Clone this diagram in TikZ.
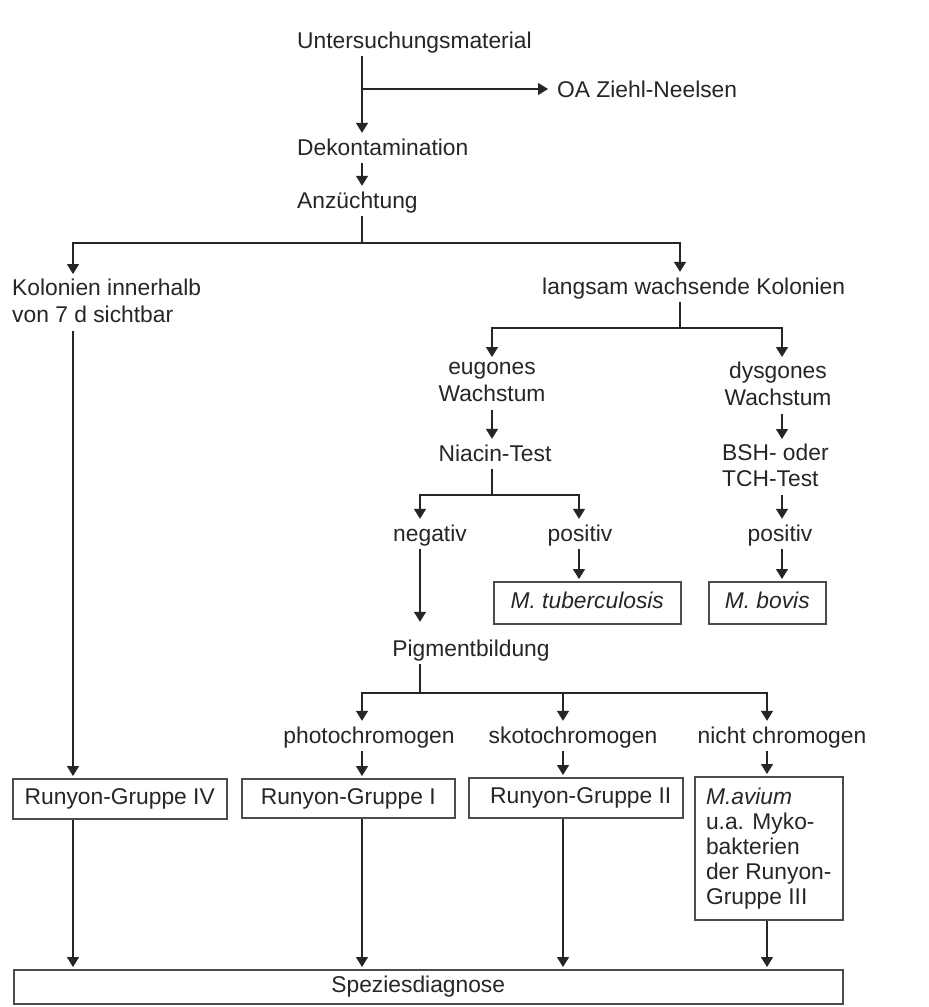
\documentclass[tikz,border=0pt]{standalone}
\usepackage{fontspec}
\setmainfont{Liberation Sans}
\usetikzlibrary{arrows.meta}
\newcommand\mystrut{\vrule height 17pt depth 5pt width 0pt}
\begin{document}
\begin{tikzpicture}[x=1pt,y=-1pt,
  every node/.style={font=\fontsize{22.8pt}{27pt}\selectfont, text=black!85},
  txt/.style={inner xsep=0pt, inner ysep=3pt, execute at begin node=\mystrut},
  box/.style={draw=black!70, line width=1.5pt, inner sep=0pt, anchor=north west, execute at begin node=\mystrut},
  ln/.style={draw=black!85, line width=1.5pt},
  ar/.style={ln, -{Triangle[width=12pt,length=10pt]}, shorten >=2pt},
]
\fill[white] (0,0) rectangle (929,1007);
\useasboundingbox (0,0) rectangle (929,1007);

% column coordinates
\coordinate (xA) at (73,0);
\coordinate (xB) at (362,0);
\coordinate (xC) at (680,0);
\coordinate (xD) at (492,0);
\coordinate (xE) at (782,0);
\coordinate (xF) at (420,0);
\coordinate (xG) at (579,0);
\coordinate (xH) at (563,0);
\coordinate (xI) at (767,0);

% text nodes
\node[txt, anchor=base west] (unt) at (297,48) {Untersuchungsmaterial};
\node[txt, anchor=base west] (oa) at (557,97) {OA Ziehl-Neelsen};
\node[txt, anchor=base west] (dek) at (297,155) {Dekontamination};
\node[txt, anchor=base west] (anz) at (297,208) {Anzüchtung};
\node[txt, anchor=north west, align=left] (kol) at (12,276) {Kolonien innerhalb\\\mystrut von 7 d sichtbar};
\node[txt, anchor=base west] (lang) at (542,294) {langsam wachsende Kolonien};
\node[txt, anchor=north, align=center] (eug) at (492,359) {eugones\\\mystrut Wachstum};
\node[txt, anchor=north, align=center] (dys) at (778,359) {dysgones\\\mystrut Wachstum};
\node[txt, anchor=base] (nia) at (495,461) {Niacin-Test};
\node[txt, anchor=north west, align=left, font=\fontsize{22.8pt}{26pt}\selectfont] (bsh) at (722,441) {BSH- oder\\\mystrut TCH-Test};
\node[txt, anchor=base] (neg) at (430,541) {negativ};
\node[txt, anchor=base] (pos1) at (580,541) {positiv};
\node[txt, anchor=base] (pos2) at (780,541) {positiv};
\node[txt, anchor=base] (pig) at (471,656) {Pigmentbildung};
\node[txt, anchor=base] (photo) at (369,743) {photochromogen};
\node[txt, anchor=base] (skoto) at (573,743) {skotochromogen};
\node[txt, anchor=base] (nicht) at (782,743) {nicht chromogen};

% boxes
\node[box, minimum width=187pt, minimum height=42pt] (tub) at (493,581) {\textit{M. tuberculosis}};
\node[box, minimum width=117pt, minimum height=42pt] (bov) at (708,581) {\textit{M. bovis}};
\node[box, minimum width=214pt, minimum height=40pt] (r4) at (12,778) {Runyon-Gruppe IV};
\node[box, minimum width=213pt, minimum height=39pt] (r1) at (241,778) {Runyon-Gruppe I};
\node[box, minimum width=214pt, minimum height=40pt] (r2) at (468,777) {\hspace*{10pt}Runyon-Gruppe II};
\node[box, minimum width=148pt, minimum height=143pt, align=left, font=\fontsize{22.8pt}{25pt}\selectfont] (avium) at (694,776)
  {\textit{M.avium}\\\mystrut u.a. Myko-\\\mystrut bakterien\\\mystrut der Runyon-\\\mystrut Gruppe III};
\node[box, minimum width=829pt, minimum height=34pt] (spez) at (13,969) {Speziesdiagnose\hspace*{20pt}};

% connectors
\coordinate (c1) at (362,89);
\coordinate (c2) at (362,243);
\coordinate (c3) at (680,328);
\coordinate (c4) at (492,495);
\coordinate (c5) at (420,693);

\draw[ar] (unt.south -| xB) -- (dek.north -| xB);
\draw[ar, shorten >=9pt] (c1) -- (c1 -| oa.west);
\draw[ar] (dek.south -| xB) -- (anz.north -| xB);
\draw[ln] (anz.south -| xB) -- (c2);
\draw[ar] (c2) -| (kol.north -| xA);
\draw[ar] (c2) -| (lang.north -| xC);
\draw[ln] (lang.south -| xC) -- (c3);
\draw[ar] (c3) -| (eug.north -| xD);
\draw[ar] (c3) -| (dys.north -| xE);
\draw[ar] (eug.south -| xD) -- (nia.north -| xD);
\draw[ar] (dys.south -| xE) -- (bsh.north -| xE);
\draw[ln] (nia.south -| xD) -- (c4);
\draw[ar] (c4) -| (neg.north -| xF);
\draw[ar] (c4) -| (pos1.north -| xG);
\draw[ar] (bsh.south -| xE) -- (pos2.north -| xE);
\draw[ar] (pos1.south -| xG) -- (tub.north -| xG);
\draw[ar] (pos2.south -| xE) -- (bov.north -| xE);
\draw[ar, shorten >=14pt] (neg.south -| xF) -- (pig.north -| xF);
\draw[ln] (pig.south -| xF) -- (c5);
\draw[ar] (c5) -| (photo.north -| xB);
\draw[ar] (c5) -| (skoto.north -| xH);
\draw[ar] (c5) -| (nicht.north -| xI);
\draw[ar] (photo.south -| xB) -- (r1.north -| xB);
\draw[ar] (skoto.south -| xH) -- (r2.north -| xH);
\draw[ar] (nicht.south -| xI) -- (avium.north -| xI);
\draw[ar] (kol.south -| xA) -- (r4.north -| xA);
\draw[ar] (r4.south -| xA) -- (spez.north -| xA);
\draw[ar] (r1.south -| xB) -- (spez.north -| xB);
\draw[ar] (r2.south -| xH) -- (spez.north -| xH);
\draw[ar] (avium.south -| xI) -- (spez.north -| xI);
\end{tikzpicture}
\end{document}
